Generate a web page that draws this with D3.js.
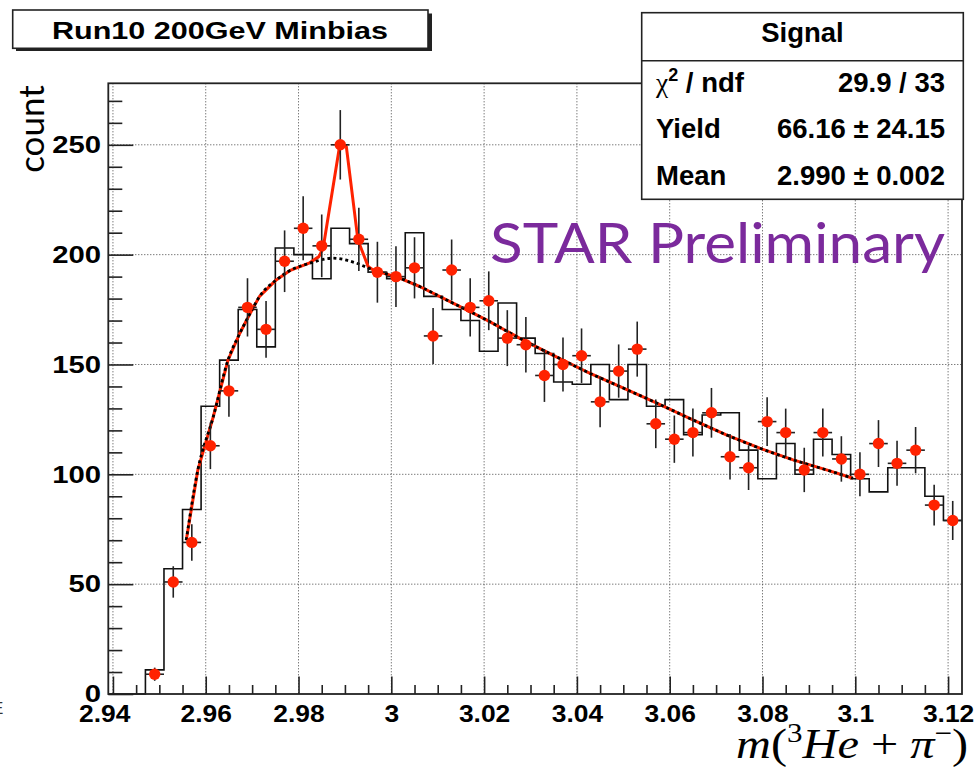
<!DOCTYPE html>
<html><head><meta charset="utf-8">
<script src="https://cdn.jsdelivr.net/npm/d3@7"></script>
<style>body{margin:0;background:#fff} svg{display:block}</style>
</head><body>
<svg id="c" width="976" height="771"></svg>
<script>
// ---------- data ----------
const histLow = 2.939, binWidth = 0.004, nBins = 46;
const histCounts = [0,0,11,57,84,131,152,175,158,203,200,189,212,205,192,189,210,181,175,170,156,178,162,155,142,141,150,134,150,131,134,118,127,128,111,98,114,100,116,109,98,92,103,103,90,79];
const pointCounts = [0,0,9,51,69,113,138,176,166,197,212,204,250,207,192,190,194,163,193,176,179,162,159,145,150,154,133,147,157,123,116,119,128,108,103,124,119,102,119,107,100,114,105,111,86,79];
// background fit (black dashed)
const bgX = [2.9558,2.9583,2.9616,2.9648,2.9673,2.9695,2.9716,2.9752,2.9781,2.9824,2.9874,2.9925,2.9960,3.0018,3.0061,3.0133,3.0205,3.0277,3.0348,3.0420,3.0492,3.0564,3.0650,3.0722,3.0794,3.0866,3.0938,3.0995];
const bgY = [70,102,126,152,164,173,181,188.5,192.7,196.1,198.4,196.1,193.1,189.3,185.5,177.9,170.3,161.9,154.3,146.8,140,133.2,124.8,118,111.9,106.6,102,98.2];
// total fit (red)
const totX = [2.9558,2.9583,2.9616,2.9648,2.9673,2.9695,2.9716,2.9752,2.9781,2.9824,2.9844,2.9853,2.9889,2.9903,2.9928,2.9950,2.9960,3.0018,3.0061,3.0133,3.0205,3.0277,3.0348,3.0420,3.0492,3.0564,3.0650,3.0722,3.0794,3.0866,3.0938,3.0995];
const totY = [70,102,126,152,164,173,181,188.5,192.7,196.3,199.1,202.9,250,249.3,206.7,194.6,193.1,189.3,185.5,177.9,170.3,161.9,154.3,146.8,140,133.2,124.8,118,111.9,106.6,102,98.2];
const yMajor = [0,50,100,150,200,250];
const xMajor = [2.94,2.96,2.98,3.00,3.02,3.04,3.06,3.08,3.10,3.12];
const statsRows = [["χ", " / ndf", "29.9 / 33"], ["Yield", "", "66.16 ± 24.15"], ["Mean", "", "2.990 ± 0.002"]];

// ---------- layout ----------
const L = 108.3, R = 962, T = 83.3, B = 694;
const svg = d3.select("#c");
const x = d3.scaleLinear().domain([histLow, histLow + nBins*binWidth]).range([L, R]);
const y = d3.scaleLinear().domain([0, 278]).range([B, T]);
const bold = "'Liberation Sans', Arial, Helvetica, sans-serif";

// grid
const grid = svg.append("g").attr("stroke", "#444").attr("stroke-width", 1).attr("stroke-dasharray", "1,2");
grid.selectAll(".gx").data(xMajor).join("line")
  .attr("x1", d => x(d)).attr("x2", d => x(d)).attr("y1", T).attr("y2", B);
grid.selectAll(".gy").data(yMajor.filter(d => d > 0)).join("line")
  .attr("x1", L).attr("x2", R).attr("y1", d => y(d)).attr("y2", d => y(d));

// axes
const yMinor = d3.range(10, 278, 10).filter(d => d % 50 !== 0);
const xMinor = d3.range(0, 37).map(i => 2.94 + i*0.005).filter((d, i) => i % 4 !== 0);
const yAx = svg.append("g").attr("transform", `translate(${L},0)`)
  .call(d3.axisLeft(y).tickValues(yMajor).tickSize(-25).tickPadding(6).tickFormat(d3.format("d")));
const yAxm = svg.append("g").attr("transform", `translate(${L},0)`)
  .call(d3.axisLeft(y).tickValues(yMinor).tickSize(-14).tickFormat(""));
const xAx = svg.append("g").attr("transform", `translate(0,${B})`)
  .call(d3.axisBottom(x).tickValues(xMajor).tickSize(-17.5).tickPadding(11).tickFormat(d => String(+d.toFixed(2))));
const xAxm = svg.append("g").attr("transform", `translate(0,${B})`)
  .call(d3.axisBottom(x).tickValues(xMinor).tickSize(-9).tickFormat(""));
[yAx, yAxm, xAx, xAxm].forEach(g => {
  g.select(".domain").remove();
  g.selectAll("line").attr("stroke", "#222").attr("stroke-width", 1.6);
  g.selectAll("text").attr("font-family", bold).attr("font-weight", "bold").attr("fill", "#000");
});
yAx.selectAll("text").attr("font-size", 24).attr("transform", "scale(1.22,1)");
xAx.selectAll("text").attr("font-size", 24).attr("transform", "scale(1.1,1)");
xAx.selectAll("text").filter(d => d === 2.94).attr("dx", -8);

// histogram outline
const steps = [];
steps.push([histLow, 0]);
histCounts.forEach((c, i) => {
  steps.push([histLow + i*binWidth, c]);
  steps.push([histLow + (i+1)*binWidth, c]);
});
svg.append("path").datum(steps)
  .attr("d", d3.line().x(d => x(d[0])).y(d => y(d[1])))
  .attr("fill", "none").attr("stroke", "#111").attr("stroke-width", 1.6);

// fits
svg.append("path").datum(totX.map((v, i) => [v, totY[i]]))
  .attr("d", d3.line().x(d => x(d[0])).y(d => y(d[1])))
  .attr("fill", "none").attr("stroke", "#ff2200").attr("stroke-width", 3).attr("stroke-linejoin", "round");
svg.append("path").datum(bgX.map((v, i) => [v, bgY[i]]))
  .attr("d", d3.line().curve(d3.curveMonotoneX).x(d => x(d[0])).y(d => y(d[1])))
  .attr("fill", "none").attr("stroke", "#000").attr("stroke-width", 2.8).attr("stroke-dasharray", "3,3");

// data points with errors
const pts = pointCounts.map((c, i) => ({ m: histLow + (i+0.5)*binWidth, c })).filter(d => d.c > 0);
const eb = svg.append("g").attr("stroke", "#222").attr("stroke-width", 1.6);
eb.selectAll(".ev").data(pts).join("line")
  .attr("x1", d => x(d.m)).attr("x2", d => x(d.m))
  .attr("y1", d => y(d.c + Math.sqrt(d.c))).attr("y2", d => y(Math.max(0, d.c - Math.sqrt(d.c))));
eb.selectAll(".eh").data(pts).join("line")
  .attr("x1", d => x(d.m - binWidth/2)).attr("x2", d => x(d.m + binWidth/2))
  .attr("y1", d => y(d.c)).attr("y2", d => y(d.c));
svg.append("g").selectAll("circle").data(pts).join("circle")
  .attr("cx", d => x(d.m)).attr("cy", d => y(d.c)).attr("r", 5.7).attr("fill", "#ff2200");

// frame
svg.append("rect").attr("x", L).attr("y", T).attr("width", R - L).attr("height", B - T)
  .attr("fill", "none").attr("stroke", "#222").attr("stroke-width", 1.8);

// axis titles
svg.append("text").attr("transform", "translate(44,129) rotate(-90)")
  .attr("text-anchor", "middle").attr("font-family", "Lato, 'Open Sans', sans-serif").attr("font-size", 35)
  .text("count");
const xt = svg.append("text").attr("transform", "translate(968,758) scale(1.15,1)").attr("text-anchor", "end")
  .attr("font-family", "'Liberation Serif', 'Times New Roman', serif").attr("font-size", 42);
xt.append("tspan").attr("font-style", "italic").text("m");
xt.append("tspan").text("(");
xt.append("tspan").attr("font-size", 27).attr("dy", -16).text("3");
xt.append("tspan").attr("font-style", "italic").attr("dy", 16).text("He");
xt.append("tspan").text(" + ");
xt.append("tspan").attr("font-style", "italic").text("π");
xt.append("tspan").attr("font-size", 27).attr("dy", -16).text("−");
xt.append("tspan").attr("dy", 16).text(")");

// clipped fragment at the left edge
svg.append("text").attr("x", -8).attr("y", 714).attr("font-family", bold).attr("font-size", 17).attr("fill", "#333").text("E");

// STAR Preliminary
svg.append("text").attr("x", 490).attr("y", 263)
  .attr("font-family", "Lato, 'Open Sans', sans-serif").attr("font-size", 56).attr("fill", "#7b2a9c")
  .attr("textLength", 455).attr("lengthAdjust", "spacingAndGlyphs")
  .text("STAR Preliminary");

// title box
svg.append("rect").attr("x", 16).attr("y", 13.5).attr("width", 416).attr("height", 37.5).attr("fill", "#222");
svg.append("rect").attr("x", 12.7).attr("y", 10).attr("width", 415.3).attr("height", 38.3)
  .attr("fill", "#fff").attr("stroke", "#222").attr("stroke-width", 1.6);
svg.append("text").attr("x", 220).attr("y", 38.5).attr("text-anchor", "middle")
  .attr("font-family", bold).attr("font-weight", "bold").attr("font-size", 24)
  .attr("textLength", 336).attr("lengthAdjust", "spacingAndGlyphs")
  .text("Run10 200GeV Minbias");

// stats box
const sb = svg.append("g");
sb.append("rect").attr("x", 641.7).attr("y", 12.7).attr("width", 321.6).attr("height", 186.6)
  .attr("fill", "#fff").attr("stroke", "#222").attr("stroke-width", 1.6);
sb.append("line").attr("x1", 641.7).attr("x2", 963.3).attr("y1", 60.7).attr("y2", 60.7)
  .attr("stroke", "#222").attr("stroke-width", 1.6);
sb.append("text").attr("x", 802.5).attr("y", 41.7).attr("text-anchor", "middle")
  .attr("font-family", bold).attr("font-weight", "bold").attr("font-size", 27.5).text("Signal");
const rowY = [91.7, 138.3, 185];
statsRows.forEach((r, i) => {
  const t = sb.append("text").attr("x", 656).attr("y", rowY[i])
    .attr("font-family", bold).attr("font-weight", "bold").attr("font-size", 27.5);
  if (i === 0) {
    t.append("tspan").attr("font-family", "'Liberation Serif', serif").attr("font-weight", "normal").text(r[0]);
    t.append("tspan").attr("font-size", 18).attr("dy", -11).text("2");
    t.append("tspan").attr("dy", 11).text(r[1]);
  } else {
    t.text(r[0]);
  }
  sb.append("text").attr("x", 945).attr("y", rowY[i]).attr("text-anchor", "end")
    .attr("font-family", bold).attr("font-weight", "bold").attr("font-size", 27.5).text(r[2]);
});
</script>
</body></html>
